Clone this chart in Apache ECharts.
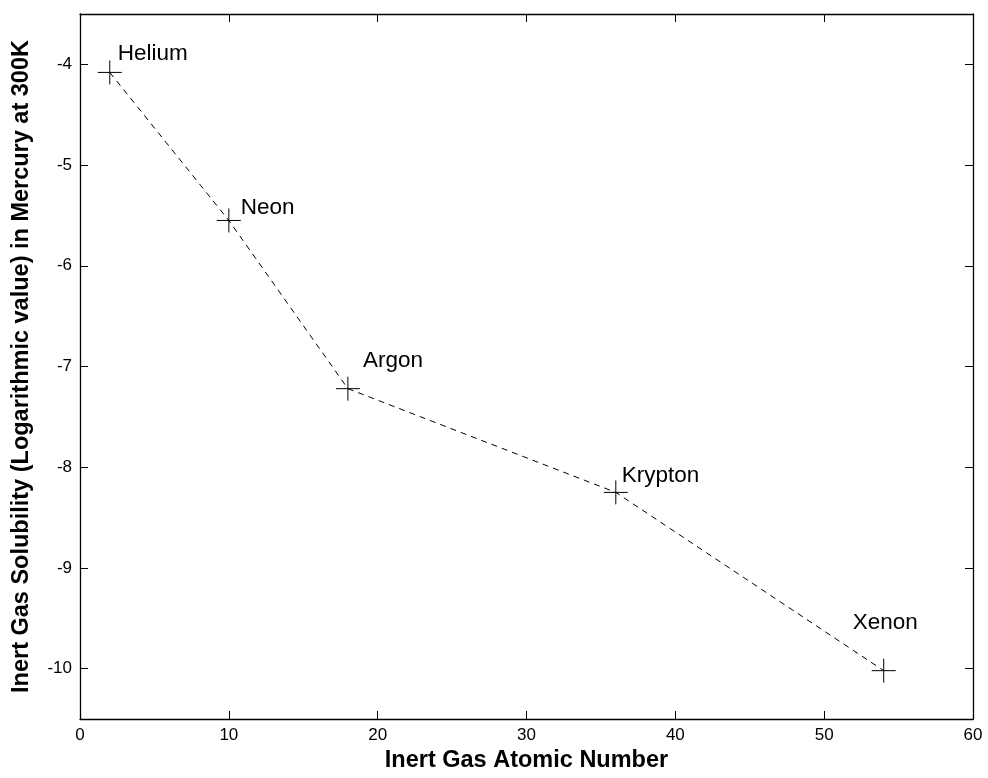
<!DOCTYPE html>
<html>
<head>
<meta charset="utf-8">
<script src="https://cdn.jsdelivr.net/npm/echarts@6/dist/echarts.min.js"></script>
<style>
html,body{margin:0;padding:0;background:#fff;}
#chart{width:988px;height:778px;}
</style>
</head>
<body>
<div id="chart"></div>
<script>
// ---- data ----
var gasNames = ['Helium', 'Neon', 'Argon', 'Krypton', 'Xenon'];
var atomicNumbers = [2, 10, 18, 36, 54];
var solubilityLog = [-4.08, -5.55, -7.22, -8.25, -10.02];
var xTicks = [0, 10, 20, 30, 40, 50, 60];
var yTicks = [-10, -9, -8, -7, -6, -5, -4];

// ---- label styling (pixel offsets of each text label from its marker) ----
var labelOffsets = [[8, -19], [12, -13], [15, -28], [6, -17], [-31, -48]];

var FONT = 'Liberation Sans, Arial, sans-serif';
var chart = echarts.init(document.getElementById('chart'), null, {renderer: 'canvas'});

var seriesData = atomicNumbers.map(function (z, i) {
  return {
    value: [z, solubilityLog[i]],
    name: gasNames[i],
    label: {
      show: true,
      position: 'inside',
      align: 'left',
      verticalAlign: 'middle',
      offset: labelOffsets[i],
      formatter: gasNames[i],
      color: '#000',
      fontFamily: FONT,
      fontSize: 22.5
    }
  };
});

var tickStyle = {show: true, inside: true, length: 8, lineStyle: {color: '#000', width: 1}};
var axisLineStyle = {show: true, onZero: false, lineStyle: {color: '#000', width: 1.3}};

var option = {
  animation: false,
  backgroundColor: '#fff',
  grid: {left: 80, right: 15, top: 14, bottom: 59, containLabel: false},
  xAxis: [{
    type: 'value',
    position: 'bottom',
    min: xTicks[0],
    max: xTicks[xTicks.length - 1],
    interval: 10,
    name: 'Inert Gas Atomic Number',
    nameLocation: 'middle',
    nameGap: 30,
    nameTextStyle: {color: '#000', fontFamily: FONT, fontSize: 23.5, fontWeight: 'bold'},
    axisLine: axisLineStyle,
    axisTick: tickStyle,
    splitLine: {show: false},
    axisLabel: {color: '#000', fontFamily: FONT, fontSize: 17, margin: 8}
  }, {
    type: 'value',
    position: 'top',
    min: xTicks[0],
    max: xTicks[xTicks.length - 1],
    interval: 10,
    axisLine: axisLineStyle,
    axisTick: tickStyle,
    splitLine: {show: false},
    axisLabel: {show: false}
  }],
  yAxis: [{
    type: 'value',
    position: 'left',
    min: -10.5,
    max: -3.5,
    splitNumber: 7,
    name: 'Inert Gas Solubility (Logarithmic value) in Mercury at 300K',
    nameLocation: 'middle',
    nameGap: 46,
    nameTextStyle: {color: '#000', fontFamily: FONT, fontSize: 23.5, fontWeight: 'bold'},
    axisLine: axisLineStyle,
    axisTick: tickStyle,
    splitLine: {show: false},
    axisLabel: {
      color: '#000', fontFamily: FONT, fontSize: 17, margin: 8,
      showMinLabel: false, showMaxLabel: false,
      formatter: function (v) { return yTicks.indexOf(v) >= 0 ? String(v) : ''; }
    }
  }, {
    type: 'value',
    position: 'right',
    min: -10.5,
    max: -3.5,
    splitNumber: 7,
    axisLine: axisLineStyle,
    axisTick: tickStyle,
    splitLine: {show: false},
    axisLabel: {show: false}
  }],
  series: [{
    type: 'line',
    xAxisIndex: 0,
    yAxisIndex: 0,
    data: seriesData,
    symbol: 'path://M12,0L12,24M0,12L24,12',
    symbolSize: 24,
    showAllSymbol: true,
    lineStyle: {color: '#000', width: 1, type: [6, 5]},
    itemStyle: {color: '#000', borderColor: '#000', borderWidth: 1},
    emphasis: {disabled: true}
  }]
};
chart.setOption(option);
</script>
</body>
</html>
